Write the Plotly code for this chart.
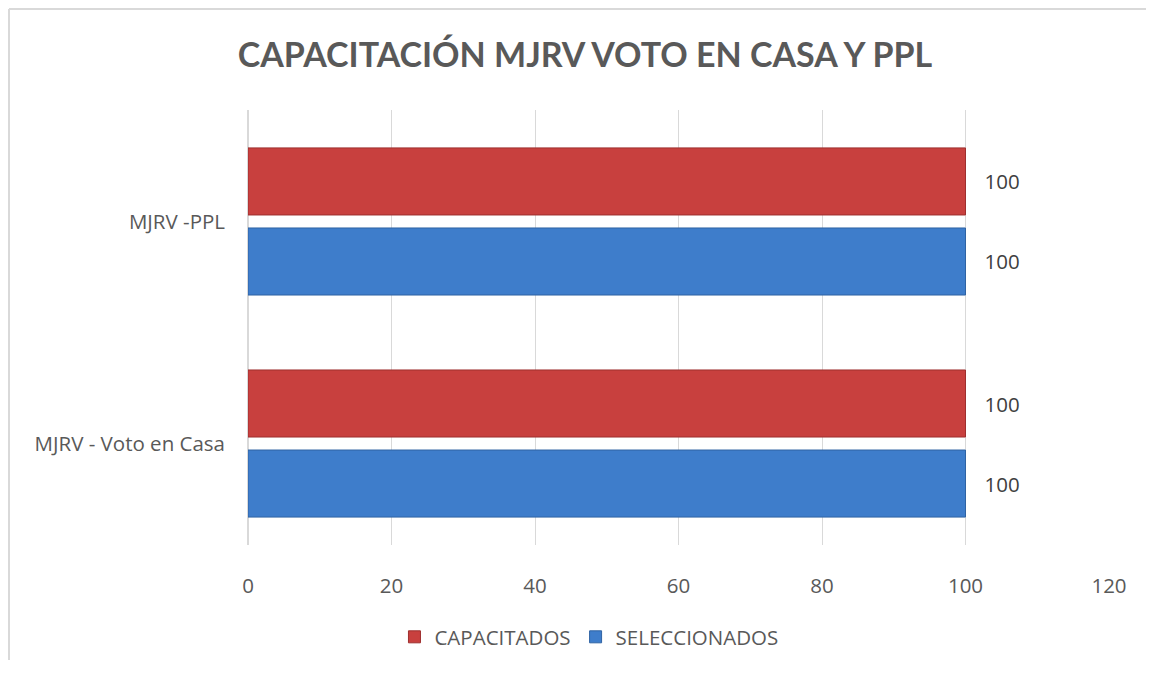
import plotly.graph_objects as go

categories = ["MJRV - Voto en Casa", "MJRV -PPL"]
seleccionados = [100, 100]
capacitados = [100, 100]
x_ticks = [0, 20, 40, 60, 80, 100, 120]

FONT = "Open Sans"
TFONT = "Lato"
GREY = "#595959"
NB = "\u00a0"
FS = 20.5

fig = go.Figure()
fig.add_trace(go.Bar(
    y=categories, x=seleccionados, orientation="h", name="SELECCIONADOS",
    marker=dict(color="#3E7DCB", line=dict(color="#2F63A3", width=1)),
    text=[NB * 3 + str(v) for v in seleccionados], textposition="outside",
    textfont=dict(family=FONT, size=FS, color="#404040"), cliponaxis=False,
))
fig.add_trace(go.Bar(
    y=categories, x=capacitados, orientation="h", name="CAPACITADOS",
    marker=dict(color="#C8403E", line=dict(color="#9E2F2E", width=1)),
    text=[NB * 3 + str(v) for v in capacitados], textposition="outside",
    textfont=dict(family=FONT, size=FS, color="#404040"), cliponaxis=False,
))

fig.update_layout(
    width=1154, height=673,
    margin=dict(l=240, r=53, t=102, b=136),
    paper_bgcolor="white", plot_bgcolor="white",
    font=dict(family=FONT, color=GREY, size=FS),
    title=dict(text="<b>CAPACITACIÓN MJRV VOTO EN CASA Y PPL</b>",
               x=0.5, xanchor="center", y=0.930, yanchor="middle",
               font=dict(family=TFONT, size=34, color=GREY)),
    barmode="group", bargap=0.279, bargroupgap=0.1625,
    showlegend=True,
    legend=dict(orientation="h", traceorder="reversed", x=0.396, xanchor="center",
                y=-0.2115, yanchor="middle", font=dict(family=FONT, size=FS, color=GREY),
                itemwidth=30),
    xaxis=dict(range=[0, 120], tickvals=x_ticks, showgrid=True, gridcolor="#D9D9D9",
               gridwidth=1, zeroline=True, zerolinecolor="#D9D9D9", showline=False,
               ticks="", ticklabelstandoff=26, tickfont=dict(size=FS, color=GREY)),
    yaxis=dict(range=[-0.457, 1.502], showgrid=False, showline=False, ticks="",
               ticklabelstandoff=22, tickfont=dict(size=FS, color=GREY)),
)

# chart border (left & top edges visible)
fig.add_shape(type="line", xref="paper", yref="paper", x0=-239/861, x1=-239/861,
              y0=-115/435, y1=1 + 101/435, line=dict(color="#D9D9D9", width=2))
fig.add_shape(type="line", xref="paper", yref="paper", x0=-239/861, x1=1 + 60/861,
              y0=1 + 101/435, y1=1 + 101/435, line=dict(color="#D9D9D9", width=2))

fig.write_html("out.html")
